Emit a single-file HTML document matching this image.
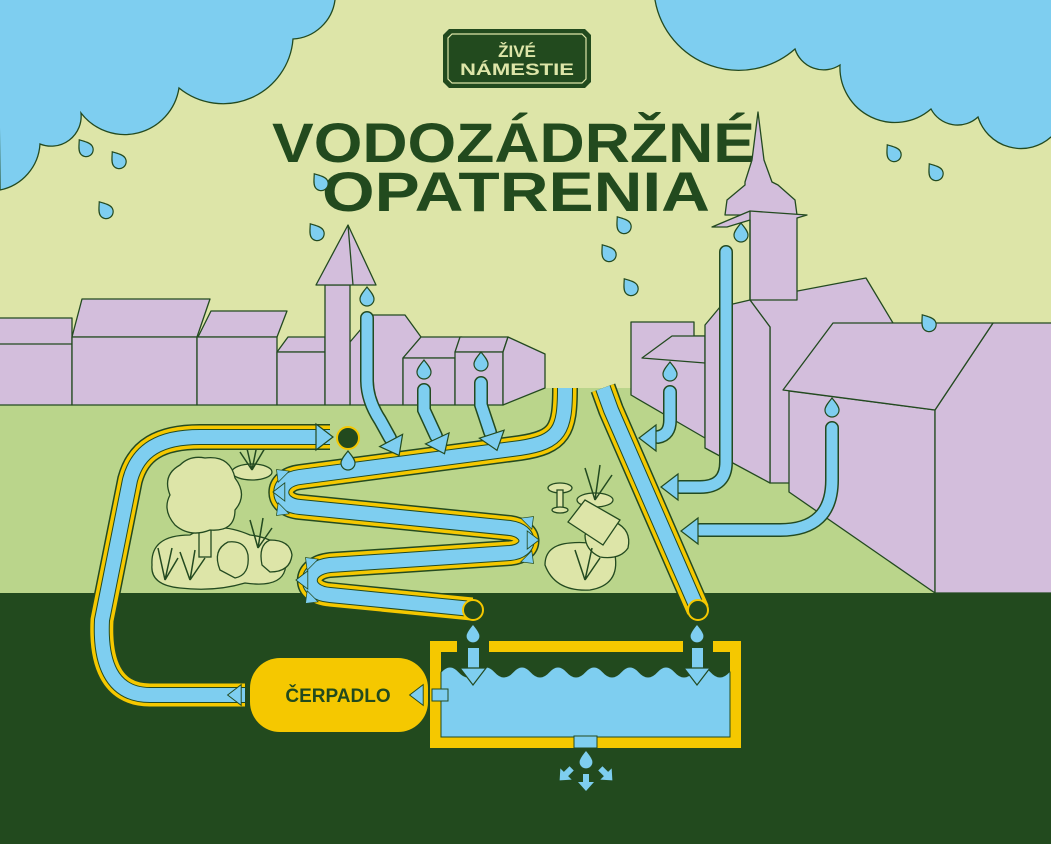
<!DOCTYPE html>
<html><head><meta charset="utf-8"><style>
html,body{margin:0;padding:0;background:#dde5a8;}
svg{display:block}
text{font-family:"Liberation Sans",sans-serif;font-weight:bold}
</style></head><body>
<svg width="1051" height="844" viewBox="0 0 1051 844" xmlns="http://www.w3.org/2000/svg">
<defs>
<path id="dr" d="M0,-10 C3,-6 7,-2 7,2 A7,7 0 1 1 -7,2 C-7,-2 -3,-6 0,-10Z" fill="#7ecef0" stroke="#234a20" stroke-width="1.2"/>
<path id="ah" d="M-4,-13 L13,0 L-4,13 Z" fill="#7ecef0" stroke="#234a20" stroke-width="1.2" stroke-linejoin="miter"/>
<path id="sa" d="M-8,-3 L0,-3 L0,-8 L9,0 L0,8 L0,3 L-8,3 Z" fill="#7ecef0"/>
</defs>
<rect width="1051" height="844" fill="#dde5a8"/>
<!-- ground -->
<rect x="0" y="388" width="1051" height="206" fill="#bad58b"/>
<rect x="0" y="593" width="1051" height="251" fill="#224a1e"/>

<!-- clouds -->
<path d="M-2,-2 L335,-2 L335,0 A45,45 0 0 1 293,39 A70,70 0 0 1 179,88 A55,55 0 0 1 81,113 A30,30 0 0 1 40,144 A50,50 0 0 1 0,190 Z" fill="#7ecef0" stroke="#234a20" stroke-width="1.3"/>
<path d="M655,-2 L1053,-2 L1053,137 L1051,137 A45,45 0 0 1 978,117 A30,30 0 0 1 931,109 A55,55 0 0 1 840,65 A30,30 0 0 1 795,49 A85,85 0 0 1 655,0 Z" fill="#7ecef0" stroke="#234a20" stroke-width="1.3"/>

<!-- logo -->
<path d="M449,29 L585,29 L591,35 L591,82 L585,88 L449,88 L443,82 L443,35 Z" fill="#224a1e"/>
<path d="M452,34 L582,34 L586,38 L586,79 L582,83 L452,83 L448,79 L448,38 Z" fill="none" stroke="#dde5a8" stroke-width="1.2"/>
<text x="517" y="57" font-size="17" fill="#dde5a8" text-anchor="middle" style="font-weight:900">ŽIVÉ</text>
<text x="517" y="75" font-size="17" fill="#dde5a8" text-anchor="middle" textLength="114" lengthAdjust="spacingAndGlyphs" style="font-weight:900">NÁMESTIE</text>

<!-- title -->
<text x="272" y="162" font-size="56" fill="#224a1e" textLength="483" lengthAdjust="spacingAndGlyphs" style="font-weight:900">VODOZÁDRŽNÉ</text>
<text x="322" y="211" font-size="56" fill="#224a1e" textLength="388" lengthAdjust="spacingAndGlyphs" style="font-weight:900">OPATRENIA</text>

<!-- left buildings -->
<g fill="#d3bedc" stroke="#234a20" stroke-width="1.3" stroke-linejoin="round">
<rect x="-2" y="318" width="74" height="87"/><line x1="0" y1="344" x2="72" y2="344"/>
<polygon points="82,299 210,299 197,337 72,337"/><rect x="72" y="337" width="125" height="68"/>
<polygon points="211,311 287,311 277,337 198,337"/><rect x="197" y="337" width="80" height="68"/>
<polygon points="277,352 288,337 325,337 325,352"/><rect x="277" y="352" width="48" height="53"/>
<polygon points="350,405 350,342 373,315 405,315 421,337 403,358 403,405"/>
<rect x="325" y="285" width="25" height="120"/>
<polygon points="316,285 348,225 376,285"/><line x1="348" y1="225" x2="353" y2="285"/>
<polygon points="403,358 421,337 462,337 455,358"/><rect x="403" y="358" width="52" height="47"/>
<polygon points="455,352 460,337 508,337 503,352"/><rect x="455" y="352" width="48" height="53"/>
<polygon points="503,352 508,337 545,354 545,388 503,405"/>
</g>
<!-- right buildings -->
<g fill="#d3bedc" stroke="#234a20" stroke-width="1.3" stroke-linejoin="round">
<polygon points="631,322 694,322 694,336 705,336 705,438 631,395"/>
<polygon points="642,358 672,336 705,336 705,363"/>
<polygon points="750,300 866,278 893,323 790,390 790,483 770,483 770,327"/>
<polygon points="705,325 720,307 750,300 770,327 770,483 705,448"/>
<polygon points="745,182 752,160 758,112 764,160 772,182 778,185 795,200 797,215 725,215 727,200 745,185"/>
<polygon points="712,227 750,211 807,215 797,218 797,300 750,300 750,220 727,227"/>
<line x1="750" y1="211" x2="750" y2="300"/>
<polygon points="789,391 935,410 935,593 789,492"/>
<polygon points="935,410 993,323 1052,323 1052,593 935,593"/>
<polygon points="783,390 833,323 993,323 935,410"/>
</g>

<!-- gardens -->
<g fill="#dde5a8" stroke="#234a20" stroke-width="1.3">
<path d="M152,565 Q150,535 190,535 Q215,520 250,535 Q290,540 285,570 Q280,588 245,583 Q215,592 180,588 Q150,585 152,565Z"/>
<ellipse cx="252" cy="472" rx="20" ry="8"/>
<rect x="199" y="525" width="12" height="32"/>
<path d="M205,458 Q230,455 235,478 Q248,495 235,510 Q235,532 210,530 Q190,538 175,525 Q162,510 170,495 Q162,475 180,465 Q190,455 205,458Z"/>
<path d="M220,570 Q212,550 228,542 Q245,540 248,555 Q250,575 235,578Z"/>
<path d="M262,565 Q258,545 270,540 Q290,540 292,555 Q290,572 270,572Z"/>
<path d="M545,565 Q545,545 570,543 Q600,540 615,555 Q620,585 590,590 Q555,592 545,565Z"/>
<path d="M585,535 Q595,520 615,522 Q632,530 628,548 Q620,560 600,557 Q585,550 585,535Z"/>
<ellipse cx="560" cy="488" rx="12" ry="5"/><rect x="557" y="490" width="6" height="20"/><ellipse cx="560" cy="510" rx="8" ry="3"/>
<ellipse cx="595" cy="500" rx="18" ry="7"/>
<polygon points="568,522 585,500 620,520 603,545"/>
</g>
<g stroke="#234a20" stroke-width="1.5" fill="none">
<path d="M252,470 L245,440 M252,470 L258,440 M252,470 L265,448 M252,470 L240,452"/>
<path d="M165,580 L158,548 M165,580 L172,548 M165,580 L178,558"/>
<path d="M190,580 L180,552 M190,580 L195,550 M190,580 L205,558"/>
<path d="M258,548 L250,520 M258,548 L263,518 M258,548 L272,528"/>
<path d="M595,500 L585,468 M595,500 L600,465 M595,500 L612,475"/>
<path d="M585,580 L575,550 M585,580 L592,548 M585,580 L600,558"/>
</g>

<!-- pipes -->
<g fill="none" stroke-linecap="butt" stroke-linejoin="round">
<path d="M565,388 C565,430 560,442 520,448 L300,477 C275,480 275,505 300,507 L510,528 C532,531 532,551 510,553 L330,565 C303,568 303,593 330,595 L472,609" stroke="#234a20" stroke-width="26"/>
<path d="M565,388 C565,430 560,442 520,448 L300,477 C275,480 275,505 300,507 L510,528 C532,531 532,551 510,553 L330,565 C303,568 303,593 330,595 L472,609" stroke="#f5c800" stroke-width="23"/>
<path d="M565,388 C565,430 560,442 520,448 L300,477 C275,480 275,505 300,507 L510,528 C532,531 532,551 510,553 L330,565 C303,568 303,593 330,595 L472,609" stroke="#234a20" stroke-width="16"/>
<path d="M565,388 C565,430 560,442 520,448 L300,477 C275,480 275,505 300,507 L510,528 C532,531 532,551 510,553 L330,565 C303,568 303,593 330,595 L472,609" stroke="#7ecef0" stroke-width="14"/>
<path d="M245,695 L150,695 C110,695 100,660 102,620 L130,480 C138,450 160,437 200,437 L330,437" stroke="#234a20" stroke-width="26"/>
<path d="M245,695 L150,695 C110,695 100,660 102,620 L130,480 C138,450 160,437 200,437 L330,437" stroke="#f5c800" stroke-width="23"/>
<path d="M245,695 L150,695 C110,695 100,660 102,620 L130,480 C138,450 160,437 200,437 L330,437" stroke="#234a20" stroke-width="16"/>
<path d="M245,695 L150,695 C110,695 100,660 102,620 L130,480 C138,450 160,437 200,437 L330,437" stroke="#7ecef0" stroke-width="14"/>
<path d="M603,388 L611,410 L698,610" stroke="#234a20" stroke-width="26"/>
<path d="M603,388 L611,410 L698,610" stroke="#f5c800" stroke-width="23"/>
<path d="M603,388 L611,410 L698,610" stroke="#234a20" stroke-width="16"/>
<path d="M603,388 L611,410 L698,610" stroke="#7ecef0" stroke-width="14"/>
</g>
<circle cx="348" cy="438" r="11" fill="#224a1e" stroke="#f5c800" stroke-width="2"/>
<circle cx="473" cy="610" r="10" fill="#224a1e" stroke="#f5c800" stroke-width="2"/>
<circle cx="698" cy="610" r="10" fill="#224a1e" stroke="#f5c800" stroke-width="2"/>
<use href="#ah" transform="translate(320,437)"/>
<!-- bend arrows -->
<use href="#ah" transform="translate(282,492) rotate(180) scale(0.7)"/>
<use href="#ah" transform="translate(282,475) rotate(-135) scale(0.6)"/>
<use href="#ah" transform="translate(282,510) rotate(135) scale(0.6)"/>
<use href="#ah" transform="translate(530,540) scale(0.7)"/>
<use href="#ah" transform="translate(528,522) rotate(-45) scale(0.6)"/>
<use href="#ah" transform="translate(528,558) rotate(45) scale(0.6)"/>
<use href="#ah" transform="translate(305,580) rotate(180) scale(0.7)"/>
<use href="#ah" transform="translate(311,563) rotate(-135) scale(0.6)"/>
<use href="#ah" transform="translate(311,598) rotate(135) scale(0.6)"/>

<!-- downspouts -->
<g fill="none" stroke-linecap="round">
<g stroke="#234a20" stroke-width="14">
<path d="M367,318 L367,380 Q367,400 380,420 L390,438"/>
<path d="M424,390 L424,410 L436,436"/>
<path d="M481,383 L481,405 L490,432"/>
<path d="M670,392 L670,420 Q670,435 658,437"/>
<path d="M726,252 L726,462 Q726,487 700,487 L680,487"/>
<path d="M832,428 L832,480 Q832,530 780,530 L700,530"/>
</g>
<g stroke="#7ecef0" stroke-width="11">
<path d="M367,318 L367,380 Q367,400 380,420 L390,438"/>
<path d="M424,390 L424,410 L436,436"/>
<path d="M481,383 L481,405 L490,432"/>
<path d="M670,392 L670,420 Q670,435 658,437"/>
<path d="M726,252 L726,462 Q726,487 700,487 L680,487"/>
<path d="M832,428 L832,480 Q832,530 780,530 L700,530"/>
</g>
</g>
<use href="#ah" transform="translate(393,444) rotate(62)"/>
<use href="#ah" transform="translate(439,442) rotate(65)"/>
<use href="#ah" transform="translate(493,438) rotate(72)"/>
<use href="#ah" transform="translate(652,438) rotate(180)"/>
<use href="#ah" transform="translate(674,487) rotate(180)"/>
<use href="#ah" transform="translate(694,531) rotate(180)"/>

<!-- tank -->
<path d="M430,641 L457,641 L457,652 L441,652 L441,737 L730,737 L730,652 L713,652 L713,641 L741,641 L741,748 L430,748 Z" fill="#f5c800"/>
<rect x="489" y="641" width="194" height="11" fill="#f5c800"/>
<path d="M441,672 q9,-10 18,0 t18,0 t18,0 t18,0 t18,0 t18,0 t18,0 t18,0 t18,0 t18,0 t18,0 t18,0 t18,0 t18,0 t18,0 t18,0 L730,672 L730,737 L441,737 Z" fill="#7ecef0" stroke="#234a20" stroke-width="1"/>
<rect x="574" y="736" width="23" height="12" fill="#7ecef0" stroke="#234a20" stroke-width="1"/>
<rect x="468" y="648" width="11" height="22" fill="#7ecef0"/>
<use href="#ah" transform="translate(473,672) rotate(90)"/>
<rect x="692" y="648" width="11" height="22" fill="#7ecef0"/>
<use href="#ah" transform="translate(697,672) rotate(90)"/>
<use href="#sa" transform="translate(586,782) rotate(90)"/>
<use href="#sa" transform="translate(566,774) rotate(135)"/>
<use href="#sa" transform="translate(606,774) rotate(45)"/>

<!-- pump -->
<rect x="250" y="658" width="178" height="74" rx="30" fill="#f5c800"/>
<text x="338" y="702" font-size="19" fill="#224a1e" text-anchor="middle" style="font-weight:900">ČERPADLO</text>
<path d="M448,689 L432,689 L432,701 L448,701 Z" fill="#7ecef0" stroke="#234a20"/>
<use href="#ah" transform="translate(420,695) rotate(180) scale(0.8)"/>
<use href="#ah" transform="translate(238,695) rotate(180) scale(0.8)"/>

<!-- drops -->
<g>
<use href="#dr" transform="translate(85,148) rotate(-35)"/>
<use href="#dr" transform="translate(118,160) rotate(-35)"/>
<use href="#dr" transform="translate(105,210) rotate(-35)"/>
<use href="#dr" transform="translate(320,182) rotate(-35)"/>
<use href="#dr" transform="translate(316,232) rotate(-35)"/>
<use href="#dr" transform="translate(608,253) rotate(-35)"/>
<use href="#dr" transform="translate(630,287) rotate(-35)"/>
<use href="#dr" transform="translate(623,225) rotate(-35)"/>
<use href="#dr" transform="translate(893,153) rotate(-35)"/>
<use href="#dr" transform="translate(935,172) rotate(-35)"/>
<use href="#dr" transform="translate(928,323) rotate(-35)"/>
<use href="#dr" transform="translate(741,233)"/>
<use href="#dr" transform="translate(367,297)"/>
<use href="#dr" transform="translate(424,370)"/>
<use href="#dr" transform="translate(481,362)"/>
<use href="#dr" transform="translate(670,372)"/>
<use href="#dr" transform="translate(832,408)"/>
<use href="#dr" transform="translate(348,461)"/>
<use href="#dr" transform="translate(473,634)"/>
<use href="#dr" transform="translate(697,634)"/>
<use href="#dr" transform="translate(586,760)"/>
</g>
</svg>
</body></html>
